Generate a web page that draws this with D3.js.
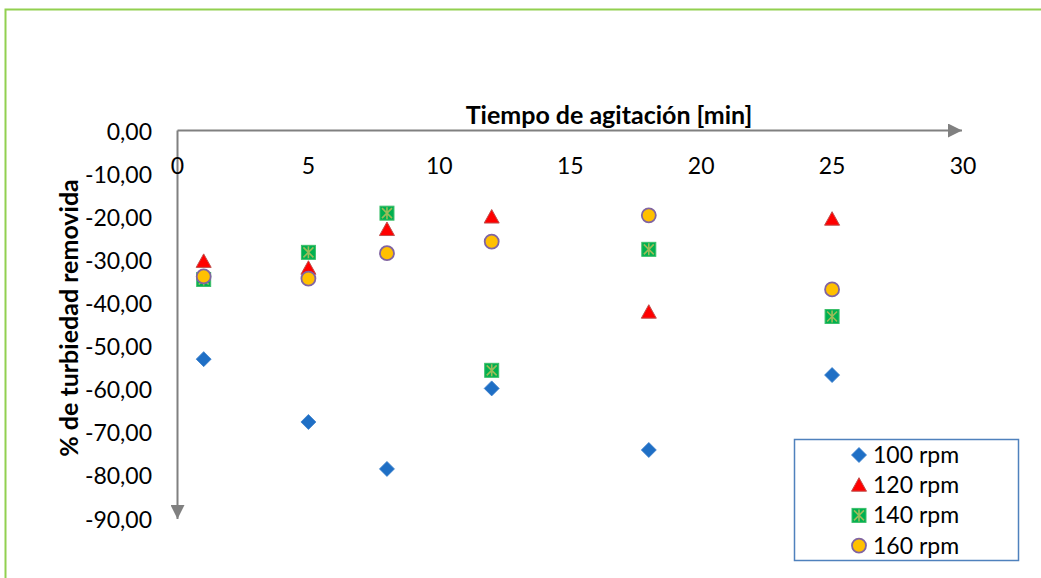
<!DOCTYPE html>
<html>
<head>
<meta charset="utf-8">
<script src="https://cdn.jsdelivr.net/npm/d3@7"></script>
<style>
  body { margin: 0; background: #fff; }
  text { font-family: Lato, "Open Sans", sans-serif; }
</style>
</head>
<body>
<div id="chart"></div>
<script>
// data
const times = [1, 5, 8, 12, 18, 25];
const rpm100 = [-53.1, -67.7, -78.6, -59.9, -74.2, -56.8];
const rpm120 = [-30.4, -32.0, -23.0, -20.1, -42.2, -20.6];
const rpm140 = [-34.6, -28.3, -19.2, -55.7, -27.6, -43.2];
const rpm160 = [-33.9, -34.4, -28.5, -25.8, -19.7, -36.9];
const seriesNames = ["100 rpm", "120 rpm", "140 rpm", "160 rpm"];
const xTicks = [0, 5, 10, 15, 20, 25, 30];
const yTicks = [0, -10, -20, -30, -40, -50, -60, -70, -80, -90];

const W = 1041, H = 578;

const svg = d3.select("#chart").append("svg")
  .attr("width", W).attr("height", H);

// outer green frame
svg.append("rect")
  .attr("x", 5.5).attr("y", 9.5)
  .attr("width", W + 20).attr("height", H + 20)
  .attr("fill", "none").attr("stroke", "#92D050").attr("stroke-width", 2);

const x = d3.scaleLinear().domain([0, 30]).range([177.5, 963]);
const y = d3.scaleLinear().domain([0, -90]).range([130.5, 518]);

// arrow markers
const defs = svg.append("defs");
defs.append("marker")
  .attr("id", "arrow")
  .attr("viewBox", "0 0 10 10")
  .attr("refX", 10).attr("refY", 5)
  .attr("markerWidth", 7).attr("markerHeight", 7)
  .attr("markerUnits", "strokeWidth")
  .attr("orient", "auto")
  .append("path").attr("d", "M0,0 L10,5 L0,10 Z").attr("fill", "#808080");

// axes lines
svg.append("line")
  .attr("x1", x(0)).attr("y1", y(0)).attr("x2", x(30) - 1).attr("y2", y(0))
  .attr("stroke", "#808080").attr("stroke-width", 2)
  .attr("marker-end", "url(#arrow)");
svg.append("line")
  .attr("x1", x(0)).attr("y1", y(0)).attr("x2", x(0)).attr("y2", y(-90) + 1)
  .attr("stroke", "#808080").attr("stroke-width", 2)
  .attr("marker-end", "url(#arrow)");

// tick labels
svg.append("g").selectAll("text").data(xTicks).enter().append("text")
  .attr("x", d => x(d)).attr("y", 166).attr("dy", "0.35em")
  .attr("text-anchor", "middle")
  .style("font-size", "23px").attr("fill", "#000")
  .text(d => d);

const fmt = d => (d === 0 ? "0,00" : d.toFixed(2).replace(".", ","));
svg.append("g").selectAll("text").data(yTicks).enter().append("text")
  .attr("x", 152).attr("y", d => y(d) + 1.5).attr("dy", "0.35em")
  .attr("text-anchor", "end")
  .style("font-size", "23px").attr("fill", "#000")
  .text(fmt);

// axis titles
svg.append("text")
  .attr("x", 609).attr("y", 124)
  .attr("text-anchor", "middle")
  .style("font-size", "25px").style("font-weight", "bold")
  .text("Tiempo de agitación [min]");
svg.append("text")
  .attr("transform", "translate(78,318) rotate(-90)")
  .attr("text-anchor", "middle")
  .style("font-size", "25px").style("font-weight", "bold")
  .text("% de turbiedad removida");

// marker drawing helpers
function drawMarker(g, kind) {
  if (kind === 0) {
    g.append("path").attr("d", "M0,-7.5 L7.5,0 L0,7.5 L-7.5,0 Z")
      .attr("fill", "#1F6FC5").attr("stroke", "#3A7FCB").attr("stroke-width", 0.8);
  } else if (kind === 1) {
    g.append("path").attr("d", "M0,-7.5 L7.5,6 L-7.5,6 Z")
      .attr("fill", "#FF0000").attr("stroke", "#C0504D").attr("stroke-width", 1);
  } else if (kind === 2) {
    g.append("rect").attr("x", -7).attr("y", -7).attr("width", 14).attr("height", 14)
      .attr("fill", "#00B050").attr("stroke", "#3CBF6A").attr("stroke-width", 1);
    g.append("path").attr("d", "M-5,-5 L5,5 M-5,5 L5,-5 M0,-6 L0,6")
      .attr("stroke", "#9BBB59").attr("stroke-width", 1.6);
  } else {
    g.append("circle").attr("r", 7)
      .attr("fill", "#FFC000").attr("stroke", "#8064A2").attr("stroke-width", 1.8);
  }
}

const allSeries = [rpm100, rpm120, rpm140, rpm160];
allSeries.forEach(function (vals, k) {
  const pts = svg.append("g").selectAll("g").data(vals).enter().append("g")
    .attr("transform", (d, i) => `translate(${x(times[i])},${y(d)})`);
  pts.each(function () { drawMarker(d3.select(this), k); });
});

// legend
const leg = svg.append("g");
leg.append("rect")
  .attr("x", 794.5).attr("y", 439.5).attr("width", 224).attr("height", 121)
  .attr("fill", "#fff").attr("stroke", "#4F81BD").attr("stroke-width", 1.5);
seriesNames.forEach(function (name, k) {
  const ry = 455 + k * 30.2;
  drawMarker(leg.append("g").attr("transform", `translate(859,${ry})`), k);
  leg.append("text")
    .attr("x", 873).attr("y", ry).attr("dy", "0.35em")
    .style("font-size", "23px")
    .text(name);
});
</script>
</body>
</html>
